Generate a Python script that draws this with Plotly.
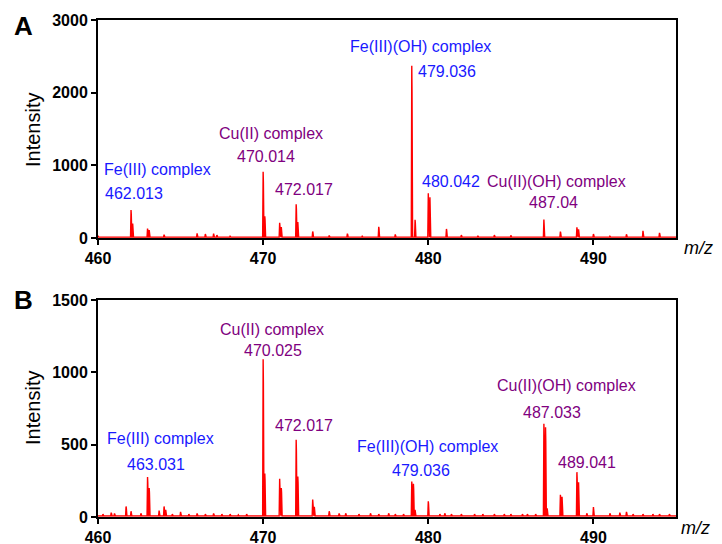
import plotly.graph_objects as go

# ---------------- data ----------------
# Panel A: peak m/z and intensities
mz_A = [460.0, 461.0, 462.0, 462.1, 463.0, 463.1, 464.0, 465.0, 466.0, 466.5, 467.0, 467.2,
        467.6, 468.0, 468.5, 469.0, 470.0, 470.1, 471.0, 471.1, 472.0, 472.1, 473.0, 474.0,
        475.1, 476.0, 477.0, 478.0, 479.0, 479.2, 480.0, 480.1, 481.1, 482.0, 483.0, 484.0,
        485.0, 486.0, 487.0, 488.0, 489.0, 489.1, 490.0, 491.0, 492.0, 493.0, 494.0]
int_A = [30, 15, 385, 200, 130, 110, 45, 15, 65, 55, 60, 40,
         20, 25, 15, 15, 910, 300, 210, 150, 465, 220, 90, 35,
         60, 25, 155, 50, 2370, 250, 615, 560, 125, 40, 30, 40,
         35, 20, 255, 87, 147, 120, 55, 25, 50, 100, 70]

# Panel B
mz_B = [460.3, 460.8, 461.0, 461.7, 462.0, 462.6, 463.0, 463.1, 463.7, 464.0, 464.1, 464.5,
        465.0, 465.5, 466.0, 466.5, 467.0, 467.5, 468.0, 468.5, 469.0, 470.0, 470.1, 471.0,
        471.1, 472.0, 472.1, 473.0, 473.1, 474.0, 474.6, 475.0, 475.8, 476.5, 477.0, 477.6,
        478.0, 478.5, 479.0, 479.1, 479.2, 480.0, 480.7, 481.0, 481.4, 482.0, 482.8, 483.3,
        484.0, 484.6, 485.0, 485.7, 486.0, 486.5, 487.0, 487.1, 487.2, 488.0, 488.1, 489.0,
        489.1, 489.6, 490.0, 491.0, 491.6, 492.0, 492.4, 493.0, 493.6, 494.0, 494.6]
int_B = [20, 30, 25, 73, 40, 25, 276, 200, 45, 73, 50, 20,
         35, 20, 25, 20, 25, 20, 20, 15, 20, 1090, 300, 264,
         200, 534, 280, 120, 70, 40, 25, 25, 20, 25, 20, 25,
         20, 20, 246, 230, 50, 108, 20, 25, 20, 20, 20, 20,
         20, 20, 20, 20, 20, 20, 644, 620, 60, 154, 140, 310,
         240, 25, 69, 25, 30, 35, 20, 20, 20, 20, 20]

# annotations: (text, m/z, intensity, colour key)
labels_A = [("Fe(III) complex", 463.6, 936, "fe"), ("462.013", 462.2, 619, "fe"),
            ("Cu(II) complex", 470.45, 1445, "cu"), ("470.014", 470.2, 1115, "cu"),
            ("472.017", 472.5, 674, "cu"),
            ("Fe(III)(OH) complex", 479.53, 2642, "fe"), ("479.036", 481.15, 2298, "fe"),
            ("480.042", 481.35, 784, "fe"),
            ("Cu(II)(OH) complex", 487.75, 784, "cu"), ("487.04", 487.56, 482, "cu")]
labels_B = [("Cu(II) complex", 470.52, 1298, "cu"), ("470.025", 470.61, 1148, "cu"),
            ("472.017", 472.48, 632, "cu"),
            ("Fe(III) complex", 463.78, 540, "fe"), ("463.031", 463.53, 366, "fe"),
            ("Fe(III)(OH) complex", 479.96, 487, "fe"), ("479.036", 479.56, 322, "fe"),
            ("Cu(II)(OH) complex", 488.38, 906, "cu"), ("487.033", 487.52, 725, "cu"),
            ("489.041", 489.63, 377, "cu")]

x_ticks = [460, 470, 480, 490]
y_ticks_A = [0, 1000, 2000, 3000]
y_ticks_B = [0, 500, 1000, 1500]

COLORS = {"fe": "rgb(25,25,255)", "cu": "rgb(128,0,128)"}
FONT = "Liberation Sans, Arial, sans-serif"

# layout geometry (figure pixels)
ML, MR, MT, MB = 90, 54, 12, 35
W, H = 722, 544
PW, PH = W - ML - MR, H - MT - MB


def px(x):
    return (x - 8 - ML) / PW


def py(y):
    return (H - MB - (y - 8)) / PH


def spectrum(mz, inten, base, xmin=460.0, xmax=495.0):
    xs, ys = [xmin], [base]
    for m, h in sorted(zip(mz, inten)):
        xs += [m - 0.03, m, m + 0.015, m + 0.05]
        ys += [base, h, h * 0.85, base]
    xs.append(xmax)
    ys.append(base)
    return xs, ys


fig = go.Figure()
xa, ya = spectrum(mz_A, int_A, 12)
xb, yb = spectrum(mz_B, int_B, 8)
for xs, ys, xref, yref in [(xa, ya, "x", "y"), (xb, yb, "x2", "y2")]:
    fig.add_trace(go.Scatter(x=xs, y=ys, mode="lines", xaxis=xref, yaxis=yref,
                             line=dict(color="rgb(255,0,0)", width=1.4),
                             fill="tozeroy", fillcolor="rgba(255,120,120,0.4)",
                             showlegend=False, hoverinfo="skip"))

ax_common = dict(showline=True, linecolor="black", linewidth=2, mirror=True,
                 ticks="outside", tickcolor="black", tickwidth=2, ticklen=5,
                 showgrid=False, zeroline=False, automargin=False,
                 tickfont=dict(family=FONT, size=16, color="black", weight="bold"))

fig.update_layout(
    width=W, height=H,
    margin=dict(l=ML, r=MR, t=MT, b=MB, autoexpand=False),
    plot_bgcolor="white", paper_bgcolor="white",
    xaxis=dict(domain=[0, 1], range=[460, 495], tickvals=x_ticks,
               anchor="y", **ax_common),
    yaxis=dict(domain=[py(238), 1.0], range=[0, 3000], tickvals=y_ticks_A,
               anchor="x", **ax_common),
    xaxis2=dict(domain=[0, 1], range=[460, 495], tickvals=x_ticks,
                anchor="y2", **ax_common),
    yaxis2=dict(domain=[0, py(300)], range=[0, 1500], tickvals=y_ticks_B,
                anchor="x2", **ax_common),
)

annotations = []
for labels, xr, yr in [(labels_A, "x", "y"), (labels_B, "x2", "y2")]:
    for txt, mx, iy, key in labels:
        annotations.append(dict(text=txt, x=mx, y=iy, xref=xr, yref=yr, showarrow=False,
                                xanchor="center", yanchor="middle",
                                font=dict(family=FONT, size=16, color=COLORS[key])))

# panel letters, axis titles
for letter, yy in [("A", 26), ("B", 300)]:
    annotations.append(dict(text=letter, x=px(23), y=py(yy), xref="paper", yref="paper",
                            showarrow=False, xanchor="center", yanchor="middle",
                            font=dict(family=FONT, size=26, color="black", weight="bold")))
for yy in [130, 408]:
    annotations.append(dict(text="Intensity", x=px(33), y=py(yy), xref="paper",
                            yref="paper", showarrow=False, textangle=-90,
                            xanchor="center", yanchor="middle",
                            font=dict(family=FONT, size=20, color="black")))
for xx, yy in [(698, 248), (695, 528)]:
    annotations.append(dict(text="<i>m/z</i>", x=px(xx), y=py(yy), xref="paper",
                            yref="paper", showarrow=False, xanchor="center", yanchor="middle",
                            font=dict(family=FONT, size=18, color="black")))

fig.update_layout(annotations=annotations)
fig.write_html("out.html")
